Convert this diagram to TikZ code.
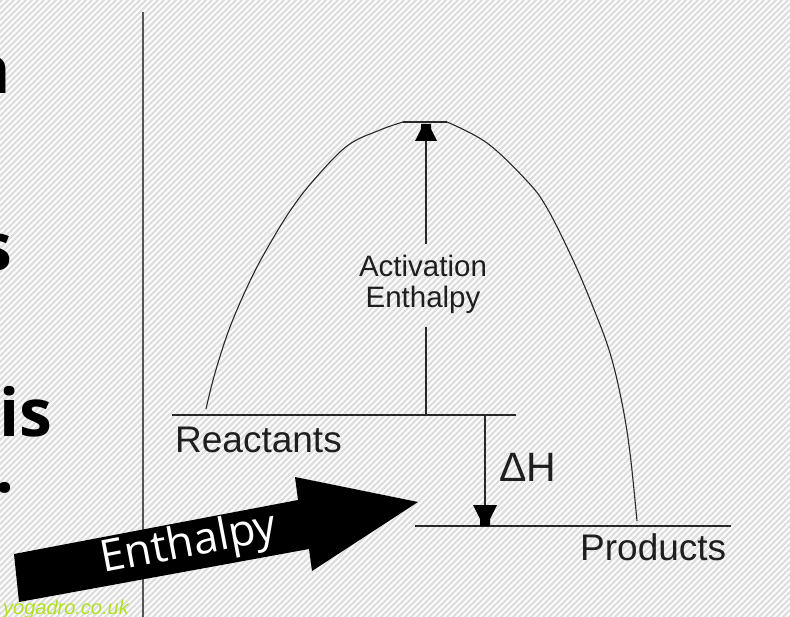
\documentclass[tikz,border=0pt]{standalone}
\usepackage{fontspec}
\setmainfont{Liberation Sans}
\newfontfamily\bigsans{Open Sans}
\newfontfamily\arrowsans{Open Sans}
\newfontfamily\labsans{Liberation Sans}
\definecolor{hatchgray}{RGB}{222,222,222}
\definecolor{axisgray}{RGB}{85,85,85}
\definecolor{linegray}{RGB}{40,40,40}
\definecolor{labelgray}{RGB}{30,30,30}
\definecolor{webgreen}{RGB}{178,226,30}
\begin{document}
\begin{tikzpicture}[x=1pt,y=-1pt,
  hatch/.style={draw=hatchgray,line width=2.2pt},
  level/.style={draw=linegray,line width=1.6pt},
  curveline/.style={draw=linegray,line width=1.1pt},
  headfill/.style={fill=black},
  lab/.style={inner sep=0pt,text=labelgray,font=\labsans\fontsize{37}{40}\selectfont},
  bigtxt/.style={inner sep=0pt,text=black,font=\bigsans\bfseries\fontsize{66}{76}\selectfont}]
\useasboundingbox (0,0) rectangle (790,617);
\fill[white] (0,0) rectangle (790,617);
\begin{scope}
\clip (0,0) rectangle (790,617);
\foreach \i in {-630,-624,...,800} \draw[hatch] (\i,620) -- (\i+623,-3);
\end{scope}
% left partial text
\node[bigtxt,anchor=base east] (tn) at (11,94) {n};
\node[bigtxt,anchor=base east] (ts) at (13,271) {s};
\node[bigtxt,anchor=base west] (tis) at (-1,437) {is};
\node[bigtxt,anchor=base west] (tdot) at (-5,493) {.};
% axis
\coordinate (axT) at (143,12);
\coordinate (axB) at (143,617);
\draw[draw=axisgray,line width=2pt] (axT) -- (axB);
% coordinates
\coordinate (rL) at (172,415);
\coordinate (rR) at (516,415);
\coordinate (pL) at (415,526);
\coordinate (pR) at (731,526);
\coordinate (pkL) at (403,122);
\coordinate (pkR) at (447,122);
\coordinate (actB) at (426,415);
\coordinate (actT) at (426,124);
\coordinate (gapB) at (426,327);
\coordinate (gapT) at (426,244);
\coordinate (dhT) at (485,415);
\coordinate (dhB) at (485,526);
% levels
\draw[level] (rL) -- (rR);
\draw[level] (pL) -- (pR);
\draw[level] (pkL) -- (pkR);
% curve
\draw[curveline] plot[smooth,tension=0.6] coordinates {(206,409) (215,373) (230,327) (250,281) (268,247) (290,211) (313,181) (347,146) (380,130) (pkL)};
\draw[curveline] plot[smooth,tension=0.6] coordinates {(pkR) (487,143) (527,181) (547,208) (573,260) (593,307) (610,353) (622,403) (630,453) (637,521)};
% activation arrow (broken around its label)
\draw[draw=linegray,line width=1.6pt] (actB) -- (gapB);
\draw[draw=linegray,line width=1.6pt] (gapT) -- ([shift={(0,12)}]actT);
\fill[headfill] ([xshift=-5]actT) -- ([xshift=5]actT) -- ([shift={(5,5)}]actT) -- ([shift={(11,17)}]actT) -- ([shift={(-11,17)}]actT) -- ([shift={(-5,5)}]actT) -- cycle;
% Delta H arrow
\draw[draw=linegray,line width=1.6pt] (dhT) -- ([shift={(0,-12)}]dhB);
\fill[headfill] ([shift={(-5,0)}]dhB) -- ([shift={(5,0)}]dhB) -- ([shift={(5,-7)}]dhB) -- ([shift={(12,-21)}]dhB) -- ([shift={(-12,-21)}]dhB) -- ([shift={(-5,-7)}]dhB) -- cycle;
% labels
\node[lab,anchor=base west] (react) at (175,453) {Reactants};
\node[lab,anchor=base west] (prod) at (580,560) {Products};
\node[lab,anchor=base,font=\labsans\fontsize{29.5}{32}\selectfont] (act1) at (423,277) {Activation};
\node[lab,anchor=base,font=\labsans\fontsize{29.5}{32}\selectfont] (act2) at (423,308) {Enthalpy};
\node[lab,anchor=base west,font=\labsans\fontsize{41}{44}\selectfont] (dh) at (499,481) {ΔH};
% big black arrow
\fill[black] (14,554) -- (298,500) -- (295,477) -- (418,502) -- (312,571) -- (309,549) -- (19,602) -- cycle;
\node[inner sep=0pt,text=white,rotate=10.8,font=\arrowsans\fontsize{44}{48}\selectfont] (enth) at (189,545) {Enthalpy};
% web credit
\node[inner sep=0pt,anchor=base east,text=webgreen,font=\labsans\itshape\fontsize{20}{22}\selectfont] (web) at (129,614) {yogadro.co.uk};
\end{tikzpicture}
\end{document}
